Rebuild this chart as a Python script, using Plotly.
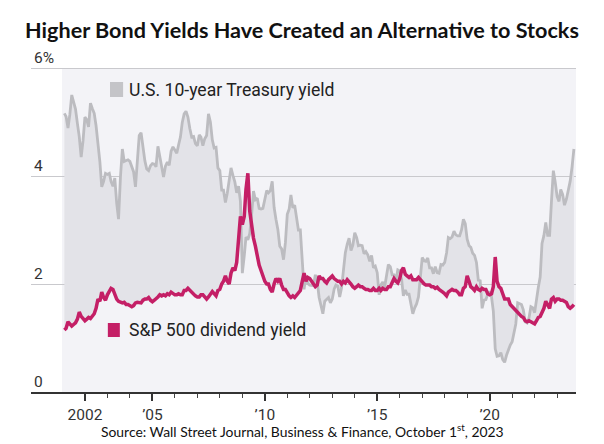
import pandas as pd
import plotly.graph_objects as go

START = "2001-01-31"

# U.S. 10-year Treasury yield, monthly (%), Jan 2001 - Sep 2023
treasury = [
    5.16, 5.10, 4.89, 5.14, 5.50, 5.35, 5.24, 4.97, 4.73, 4.35, 4.65, 5.09,
    5.04, 4.91, 5.35, 5.25, 5.16, 4.93, 4.65, 4.26, 3.80, 3.90, 4.05, 4.03,
    4.05, 3.90, 3.81, 3.96, 3.50, 3.20, 3.98, 4.50, 4.27, 4.29, 4.30, 4.27,
    4.15, 4.08, 3.80, 4.35, 4.75, 4.80, 4.50, 4.28, 4.13, 4.10, 4.19, 4.23,
    4.22, 4.17, 4.55, 4.34, 4.14, 3.98, 4.18, 4.26, 4.20, 4.46, 4.54, 4.47,
    4.42, 4.57, 4.72, 4.99, 5.15, 5.20, 5.09, 4.88, 4.72, 4.73, 4.60, 4.56,
    4.76, 4.72, 4.56, 4.69, 4.75, 5.15, 5.00, 4.67, 4.52, 4.53, 4.15, 4.10,
    3.74, 3.74, 3.51, 3.68, 3.88, 4.15, 4.01, 3.89, 3.69, 3.81, 3.53, 2.20,
    2.52, 2.87, 2.82, 2.93, 3.29, 3.72, 3.56, 3.59, 3.40, 3.39, 3.40, 3.59,
    3.73, 3.69, 3.73, 3.90, 3.42, 3.20, 3.01, 2.70, 2.65, 2.45, 2.76, 3.29,
    3.39, 3.65, 3.41, 3.46, 3.17, 3.00, 3.00, 2.30, 1.90, 2.15, 2.01, 1.98,
    1.97, 1.97, 2.17, 2.05, 1.75, 1.62, 1.45, 1.68, 1.72, 1.75, 1.65, 1.72,
    1.91, 1.98, 1.96, 1.76, 1.93, 2.30, 2.58, 2.74, 2.85, 2.62, 2.72, 2.95,
    2.86, 2.71, 2.72, 2.71, 2.56, 2.60, 2.54, 2.42, 2.53, 2.30, 2.33, 2.21,
    1.80, 1.98, 2.04, 1.94, 2.20, 2.36, 2.32, 2.17, 2.17, 2.07, 2.26, 2.24,
    2.09, 1.78, 1.89, 1.81, 1.81, 1.64, 1.45, 1.56, 1.63, 1.76, 2.14, 2.49,
    2.43, 2.42, 2.48, 2.30, 2.30, 2.19, 2.32, 2.21, 2.20, 2.36, 2.35, 2.40,
    2.58, 2.86, 2.84, 2.87, 2.98, 2.91, 2.89, 2.89, 3.00, 3.20, 3.12, 2.83,
    2.71, 2.68, 2.57, 2.53, 2.40, 2.07, 2.06, 1.55, 1.70, 1.71, 1.81, 1.86,
    1.76, 1.50, 0.80, 0.66, 0.67, 0.73, 0.60, 0.55, 0.68, 0.79, 0.87, 0.93,
    1.08, 1.26, 1.65, 1.64, 1.62, 1.52, 1.30, 1.28, 1.37, 1.58, 1.56, 1.47,
    1.76, 1.93, 2.13, 2.75, 2.90, 3.14, 2.90, 2.90, 3.52, 4.10, 3.89, 3.62,
    3.53, 3.75, 3.66, 3.46, 3.57, 3.75, 3.90, 4.17, 4.50,
]

# S&P 500 dividend yield, monthly (%), Jan 2001 - Sep 2023
dividend = [
    1.15, 1.18, 1.30, 1.25, 1.22, 1.25, 1.28, 1.35, 1.48, 1.40, 1.35, 1.32,
    1.35, 1.38, 1.36, 1.42, 1.45, 1.55, 1.72, 1.68, 1.85, 1.75, 1.70, 1.80,
    1.85, 1.92, 1.90, 1.80, 1.72, 1.68, 1.66, 1.65, 1.66, 1.62, 1.62, 1.60,
    1.58, 1.60, 1.65, 1.66, 1.66, 1.65, 1.70, 1.72, 1.72, 1.75, 1.70, 1.67,
    1.70, 1.72, 1.76, 1.80, 1.78, 1.80, 1.78, 1.82, 1.80, 1.85, 1.82, 1.80,
    1.80, 1.82, 1.80, 1.80, 1.88, 1.88, 1.92, 1.88, 1.84, 1.80, 1.78, 1.76,
    1.76, 1.80, 1.80, 1.76, 1.72, 1.76, 1.80, 1.86, 1.82, 1.78, 1.88, 1.90,
    2.00, 2.05, 2.15, 2.05, 2.00, 2.20, 2.30, 2.25, 2.40, 2.90, 3.25, 3.10,
    3.25, 3.75, 4.05, 3.35, 3.05, 2.85, 2.70, 2.50, 2.35, 2.25, 2.15, 2.05,
    2.00, 2.00, 1.90, 1.85, 2.00, 2.10, 2.05, 2.10, 1.98, 1.90, 1.90, 1.82,
    1.78, 1.75, 1.78, 1.75, 1.80, 1.85, 1.88, 2.05, 2.20, 2.05, 2.12, 2.10,
    2.05, 2.00, 1.95, 1.98, 2.15, 2.10, 2.10, 2.05, 2.02, 2.08, 2.12, 2.15,
    2.10, 2.08, 2.05, 2.05, 2.00, 2.05, 2.02, 2.08, 2.05, 2.00, 1.95, 1.92,
    1.95, 1.98, 1.95, 1.95, 1.92, 1.90, 1.90, 1.88, 1.88, 1.92, 1.88, 1.88,
    1.92, 1.88, 1.92, 1.90, 1.90, 1.95, 1.95, 2.05, 2.10, 2.05, 2.02, 2.10,
    2.25, 2.30, 2.18, 2.15, 2.12, 2.15, 2.08, 2.08, 2.08, 2.12, 2.08, 2.02,
    2.00, 1.98, 1.98, 1.98, 1.95, 1.95, 1.92, 1.94, 1.90, 1.88, 1.85, 1.82,
    1.78, 1.85, 1.88, 1.90, 1.88, 1.88, 1.85, 1.80, 1.80, 1.92, 1.95, 2.15,
    2.05, 1.95, 1.92, 1.88, 1.95, 1.90, 1.88, 1.92, 1.90, 1.90, 1.82, 1.80,
    1.82, 1.95, 2.50, 2.05, 1.95, 1.92, 1.82, 1.72, 1.72, 1.72, 1.62, 1.58,
    1.55, 1.52, 1.48, 1.42, 1.40, 1.38, 1.32, 1.30, 1.32, 1.30, 1.28, 1.26,
    1.32, 1.38, 1.40, 1.48, 1.55, 1.68, 1.62, 1.55, 1.72, 1.75, 1.68, 1.72,
    1.72, 1.70, 1.70, 1.68, 1.66, 1.58, 1.55, 1.58, 1.62,
]

tick_years = ["2002-01-01", "2005-01-01", "2010-01-01", "2015-01-01", "2020-01-01"]
tick_labels = ["2002", "\u201905", "\u201910", "\u201915", "\u201920"]
minor_years = [f"{y}-01-01" for y in range(2002, 2024)]
y_ticks = [0, 2, 4, 6]
y_labels = ["0", "2", "4", "6%"]

dates = pd.date_range(START, periods=len(treasury), freq="ME")

GRAY = "#bcbcc0"
PINK = "#c41f66"
FILL = "#e3e3e8"
BG = "#f3f3f7"
TXT = "#222222"

# plot area in pixels: x 31..576, y(0)=392, 54 px per 1%
Y_TOP = 6.5
T_MARGIN = 392 - Y_TOP * 54

fig = go.Figure()
fig.add_trace(go.Scatter(x=dates, y=dividend, mode="lines",
                         line=dict(width=0, color=PINK), hoverinfo="skip"))
fig.add_trace(go.Scatter(x=dates, y=treasury, mode="lines", fill="tonexty",
                         fillcolor=FILL, line=dict(width=2.8, color=GRAY)))
fig.add_trace(go.Scatter(x=dates, y=dividend, mode="lines",
                         line=dict(width=3.5, color=PINK)))

fig.update_layout(
    width=604, height=444,
    margin=dict(l=31, r=28, t=T_MARGIN, b=52, autoexpand=False),
    paper_bgcolor="white", plot_bgcolor="white",
    showlegend=False,
    title=dict(text="<b>Higher Bond Yields Have Created an Alternative to Stocks</b>",
               x=0.5, xanchor="center", y=1 - 30 / 444, yanchor="middle",
               font=dict(family="Lato", size=21.6, color="#111111")),
    font=dict(family="Roboto", color=TXT),
)

fig.update_xaxes(
    type="date", range=["1999-08-08", "2023-11-03"],
    tickvals=tick_years, ticktext=tick_labels,
    ticks="outside", ticklen=7, tickwidth=1.5, tickcolor="#333333",
    tickfont=dict(family="Roboto", size=15.5, color="#333333"),
    showline=True, linecolor="#333333", linewidth=2,
    showgrid=False, zeroline=False,
    minor=dict(tickmode="array", tickvals=minor_years, ticks="outside", ticklen=4,
               tickwidth=1.2, tickcolor="#444444", showgrid=False),
)
fig.update_yaxes(
    range=[0, Y_TOP], tickvals=y_ticks, ticktext=y_labels,
    ticklabelposition="inside top",
    tickfont=dict(family="Roboto", size=15.5, color="#333333"),
    showgrid=True, gridcolor="#c9c9cd", gridwidth=1,
    zeroline=False, showline=False, ticks="",
)

# plot background panel
fig.add_shape(type="rect", xref="paper", yref="y", x0=(62 - 31) / 545, x1=1,
              y0=0, y1=6, fillcolor=BG, line=dict(width=0), layer="below")

PH = 392 - T_MARGIN  # plot height in px


def py(pix):
    return (392 - pix) / PH


# legend squares
fig.add_shape(type="rect", xref="paper", yref="paper", x0=0.145, x1=0.169,
              y0=py(97), y1=py(82), fillcolor="#c4c4c8", line=dict(width=0))
fig.add_shape(type="rect", xref="paper", yref="paper", x0=0.141, x1=0.163,
              y0=py(337), y1=py(323), fillcolor=PINK, line=dict(width=0))

fig.add_annotation(xref="paper", yref="paper", x=0.176, y=py(90),
                   text="U.S. 10-year Treasury yield", showarrow=False,
                   xanchor="left", yanchor="middle",
                   font=dict(family="Roboto", size=17.6, color=TXT))
fig.add_annotation(xref="paper", yref="paper", x=0.176, y=py(330),
                   text="S&amp;P 500 dividend yield", showarrow=False,
                   xanchor="left", yanchor="middle",
                   font=dict(family="Roboto", size=17.6, color=TXT))

fig.add_annotation(xref="paper", yref="paper", x=(302 - 31) / 545, y=py(430),
                   text="Source: Wall Street Journal, Business &amp; Finance, October 1<sup>st</sup>, 2023",
                   showarrow=False, xanchor="center", yanchor="middle",
                   font=dict(family="Lato", size=13.9, color="#111111"))

fig.write_html("out.html", config={"displayModeBar": False},
               post_script="document.body.style.margin='0';")
